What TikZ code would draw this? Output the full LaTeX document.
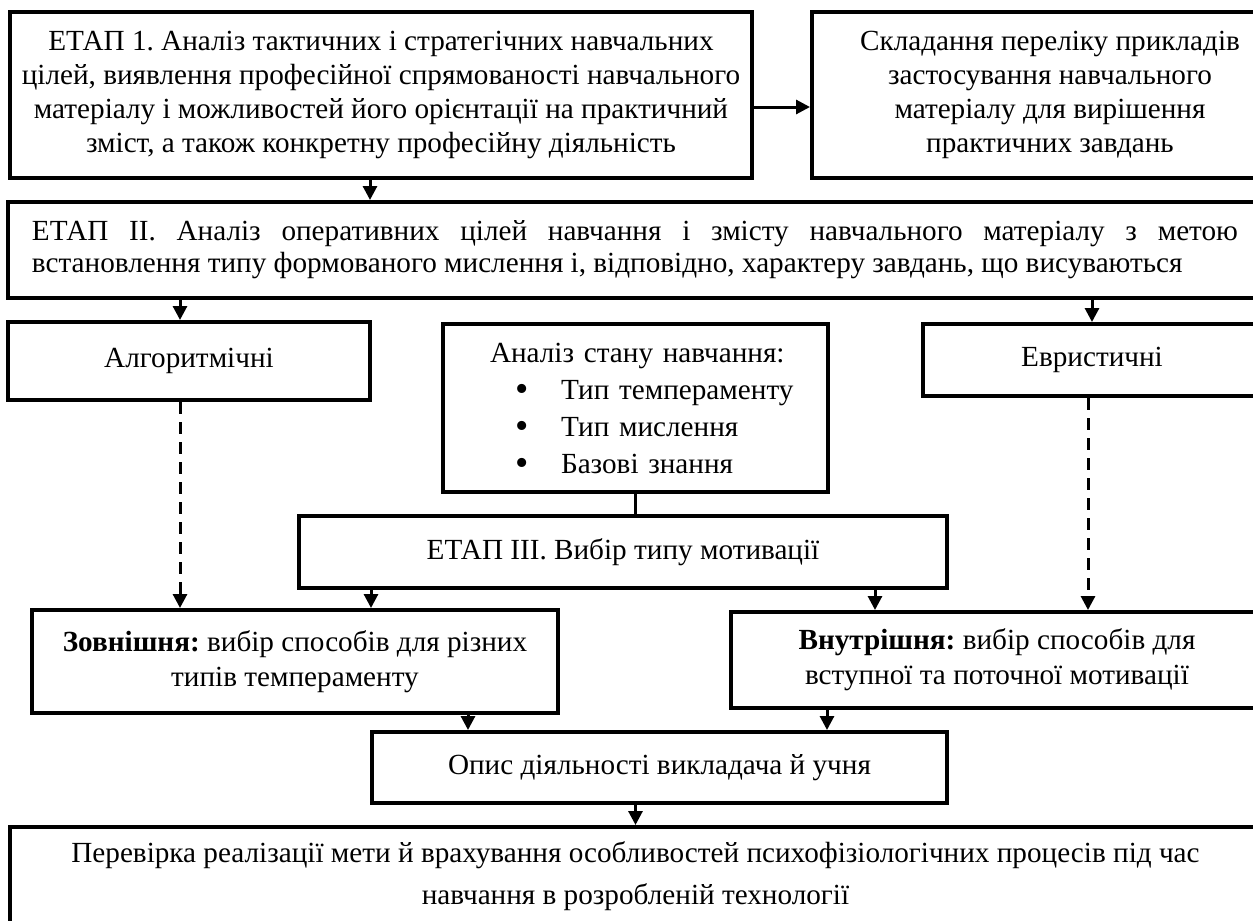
\documentclass[tikz,border=0pt]{standalone}
\usepackage{fontspec}
\setmainfont{Liberation Serif}
\usetikzlibrary{arrows.meta}
\newcommand{\pnt}{\hspace*{36pt}\makebox[23pt][l]{\raisebox{-0.2ex}[0pt][0pt]{\scalebox{1.3}{\textbullet}}}}
\frenchspacing
\begin{document}
\begin{tikzpicture}[x=0.5pt,y=-0.5pt,
  box/.style={draw, line width=2pt, align=center, font=\fontsize{14.6}{17}\selectfont},
  arr/.style={-{Triangle[length=7pt,width=7pt]}, line width=1.5pt},
  brk/.style={dash pattern=on 6pt off 4pt}]
\useasboundingbox (0,0) rectangle (1253,921);
\clip (0,0) rectangle (1253,921);
\node[box, minimum width=371pt, minimum height=83pt] (e1) at (381,95) {ЕТАП 1. Аналіз тактичних і стратегічних навчальних\\ цілей, виявлення професійної спрямованості навчального\\ матеріалу і можливостей його орієнтації на практичний\\ зміст, а також конкретну професійну діяльність};
\node[box, minimum width=238pt, minimum height=83pt] (pr) at (1050,95) {Складання переліку прикладів\\ застосування навчального\\ матеріалу для вирішення\\ практичних завдань};
\node[box, minimum width=627pt, minimum height=48pt, text width=603pt, align=justify, font=\fontsize{14.6}{16}\selectfont] (e2) at (635,250) {ЕТАП ІІ. Аналіз оперативних цілей навчання і змісту навчального матеріалу з метою\linebreak встановлення типу формованого мислення і, відповідно, характеру завдань, що висуваються};
\node[box, minimum width=181pt, minimum height=39pt] (al) at (189,361) {Алгоритмічні};
\node[box, minimum width=192.5pt, minimum height=84pt, inner xsep=0pt, text width=192.5pt, align=left, font=\fontsize{14.6}{18.5}\selectfont] (an) at (635.5,408) {\hspace*{23.5pt}Аналіз стану навчання:\\ \pnt Тип темпераменту\\ \pnt Тип мислення\\ \pnt Базові знання};
\node[box, minimum width=169pt, minimum height=36pt] (ev) at (1092,360) {Евристичні};
\node[box, minimum width=324pt, minimum height=36pt] (e3) at (623,552) {ЕТАП ІІІ. Вибір типу мотивації};
\node[box, minimum width=263pt, minimum height=51.5pt, font=\fontsize{14.6}{17.5}\selectfont] (zv) at (295,661.5) {\textbf{Зовнішня:} вибір способів для різних\\ типів темпераменту};
\node[box, minimum width=266pt, minimum height=48pt, font=\fontsize{14.6}{17.5}\selectfont] (vn) at (997,660) {\textbf{Внутрішня:} вибір способів для\\ вступної та поточної мотивації};
\node[box, minimum width=287.5pt, minimum height=35.5pt] (op) at (659.5,767.5) {Опис діяльності викладача й учня};
\node[box, minimum width=625.5pt, minimum height=49pt, font=\fontsize{14.6}{21}\selectfont] (bt) at (635.5,876) {Перевірка реалізації мети й врахування особливостей психофізіологічних процесів під час\\ навчання в розробленій технології};
\draw[arr] ([yshift=-6pt]e1.east) -- ([yshift=-6pt]pr.west);
\draw[arr] ([xshift=-5.5pt]e1.south) -- ([xshift=-5.5pt]e1.south |- e2.north);
\draw[arr] (e2.south -| 180,0) -- (al.north -| 180,0);
\draw[arr] (e2.south -| ev.north) -- (ev.north);
\draw[arr,brk] (al.south -| 180,0) -- (zv.north -| 180,0);
\draw[arr,brk] (ev.south -| 1088,0) -- (vn.north -| 1088,0);
\draw[line width=1.5pt] (an.south) -- (an.south |- e3.north);
\draw[arr] (e3.south -| 371,0) -- (zv.north -| 371,0);
\draw[arr] (e3.south -| 875,0) -- (vn.north -| 875,0);
\draw[arr] (zv.south -| 468,0) -- (op.north -| 468,0);
\draw[arr] (vn.south -| 827,0) -- (op.north -| 827,0);
\draw[arr] (op.south -| bt.north) -- (bt.north);
\end{tikzpicture}
\end{document}
